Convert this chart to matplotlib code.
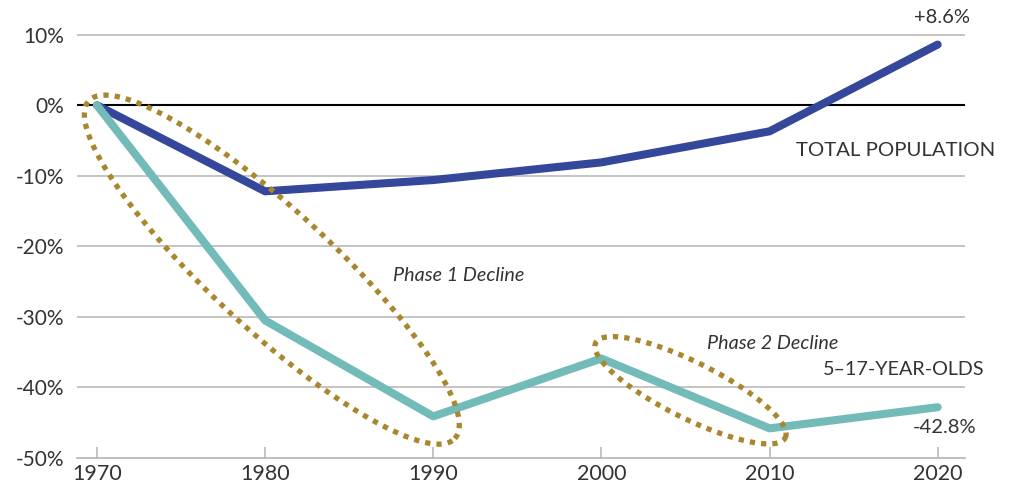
import numpy as np
import matplotlib
matplotlib.use("Agg")
import matplotlib.pyplot as plt

plt.rcParams['font.family'] = ['Lato', 'DejaVu Sans']

years = [1970, 1980, 1990, 2000, 2010, 2020]
total_pop = [0.0, -12.2, -10.6, -8.1, -3.7, 8.6]
youth = [0.0, -30.5, -44.1, -35.9, -45.8, -42.8]
ytick_vals = [10, 0, -10, -20, -30, -40, -50]
ytick_labels = ['10%', '0%', '-10%', '-20%', '-30%', '-40%', '-50%']

BLUE = '#34479a'
TEAL = '#72bbb8'
GOLD = '#a8872e'
GRAY = '#b4b4b4'
TXT = '#333333'

fig = plt.figure(figsize=(10.1, 4.9), dpi=100)
ax = fig.add_axes([0.0762, 0.0653, 0.955 - 0.0762, 0.958 - 0.0653])
ax.set_xlim(1968.81, 2021.6)
ax.set_ylim(-50, 12)

for s in ['top', 'right', 'left']:
    ax.spines[s].set_visible(False)
ax.spines['bottom'].set_color(GRAY)
ax.spines['bottom'].set_linewidth(1.2)

for v in ytick_vals[:-1]:
    if v == 0:
        ax.axhline(v, color='black', lw=1.5, zorder=1)
    else:
        ax.axhline(v, color=GRAY, lw=1.1, zorder=1)

ax.set_yticks(ytick_vals)
ax.set_yticklabels(ytick_labels)
ax.set_xticks(years)
ax.set_xticklabels([str(y) for y in years])
ax.tick_params(axis='y', length=0, pad=9, labelsize=15, labelcolor=TXT)
ax.tick_params(axis='x', direction='in', length=8, width=1.1, color=GRAY,
               pad=4, labelsize=15.5, labelcolor=TXT)

ax.plot(years, total_pop, color=BLUE, lw=5.8, solid_capstyle='round',
        solid_joinstyle='round', zorder=3)
ax.plot(years, youth, color=TEAL, lw=5.8, solid_capstyle='round',
        solid_joinstyle='round', zorder=3)


def dotted_ellipse(cx, cy, a, b, ang):
    # a, b in pixels, ang in degrees (display space)
    c = ax.transData.transform((cx, cy))
    t = np.linspace(0, 2 * np.pi, 400)
    th = np.radians(ang)
    px = c[0] + a * np.cos(t) * np.cos(th) - b * np.sin(t) * np.sin(th)
    py = c[1] + a * np.cos(t) * np.sin(th) + b * np.sin(t) * np.cos(th)
    pts = ax.transData.inverted().transform(np.column_stack([px, py]))
    ax.plot(pts[:, 0], pts[:, 1], color=GOLD, lw=3.8, linestyle=(0, (1, 1.15)),
            dash_capstyle='butt', zorder=4)


dotted_ellipse(1980.4, -23.3, 249, 60, -42.7)
dotted_ellipse(2005.3, -40.4, 106, 28, -26.6)

ax.text(2021.9, 12.4, '+8.6%', ha='right', va='center', fontsize=14.5, color=TXT,
        clip_on=False)
ax.text(2023.45, -6.4, 'TOTAL POPULATION', ha='right', va='center', fontsize=14.7, color=TXT,
        clip_on=False)
ax.text(2022.8, -37.4, '5\u201317-YEAR-OLDS', ha='right', va='center', fontsize=14.2, color=TXT)
ax.text(2022.3, -45.7, '-42.8%', ha='right', va='center', fontsize=14.5, color=TXT)
ax.text(1987.6, -24.1, 'Phase 1 Decline', ha='left', va='center', fontsize=14.2,
        style='italic', color=TXT)
ax.text(2006.3, -33.8, 'Phase 2 Decline', ha='left', va='center', fontsize=14.2,
        style='italic', color=TXT)

fig.savefig('out.png', dpi=100)
